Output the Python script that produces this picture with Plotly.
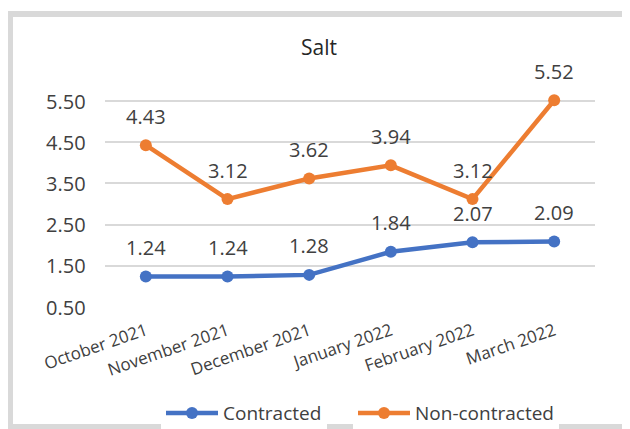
import plotly.graph_objects as go

months = ["October 2021", "November 2021", "December 2021",
          "January 2022", "February 2022", "March 2022"]
contracted = [1.24, 1.24, 1.28, 1.84, 2.07, 2.09]
non_contracted = [4.43, 3.12, 3.62, 3.94, 3.12, 5.52]
y_ticks = [0.5, 1.5, 2.5, 3.5, 4.5, 5.5]

# page body has an 8px margin, so the figure is a bit smaller than the window
W, H = 622, 421
L, R, T, B = 97, 35, 89, 122

font_color = "#404040"
fig = go.Figure()

series = [("Contracted", contracted, "#4472C4", "legend"),
          ("Non-contracted", non_contracted, "#ED7D31", "legend2")]

for name, vals, col, leg in series:
    fig.add_trace(go.Scatter(
        x=months, y=vals, name=name, mode="lines+markers",
        line=dict(color=col, width=4.5),
        marker=dict(color=col, size=12),
        cliponaxis=False, legend=leg,
    ))
    for m, v in zip(months, vals):
        fig.add_annotation(x=m, y=v, text=f"{v:.2f}", showarrow=False,
                           yshift=29, font=dict(size=20, color=font_color))

# y tick labels as annotations so the gap to the plot is exact
for t in y_ticks:
    fig.add_annotation(xref="paper", x=0, y=t, yref="y", text=f"{t:.2f}",
                       showarrow=False, xanchor="right", xshift=-17,
                       font=dict(size=20, color=font_color))

# chart border (outside plot area)
pw, ph = W - L - R, H - T - B
def px(x):
    return (x - L) / pw
def py(y):
    return (H - B - y) / ph

fig.add_shape(type="rect", xref="paper", yref="paper",
              x0=px(2), x1=px(617), y0=py(6), y1=py(419),
              line=dict(color="#d9d9d9", width=6), layer="below")

leg_style = dict(orientation="h", xanchor="left", y=-0.505, yanchor="middle",
                 font=dict(size=19, color=font_color), itemwidth=52)

fig.update_layout(
    width=W, height=H,
    margin=dict(l=L, r=R, t=T, b=B, autoexpand=False),
    paper_bgcolor="white", plot_bgcolor="white",
    font=dict(family="Open Sans, Liberation Sans, sans-serif", color=font_color, size=16),
    title=dict(text="Salt", x=0.5, xanchor="center", y=0.907, yanchor="middle",
               font=dict(size=21, color="#262626")),
    showlegend=True,
    legend=dict(x=px(153), **leg_style),
    legend2=dict(x=px(345), **leg_style),
    xaxis=dict(showgrid=False, showline=False, ticks="", tickangle=-19,
               automargin=False, ticklabelstandoff=10,
               tickfont=dict(size=17, color=font_color), range=[-0.5, 5.5]),
    yaxis=dict(range=[0.5, 5.6], tickvals=y_ticks, automargin=False,
               showticklabels=False,
               showgrid=True, gridcolor="#d9d9d9", gridwidth=1.5,
               zeroline=False, showline=False, ticks=""),
)

fig.write_html("out.html")
